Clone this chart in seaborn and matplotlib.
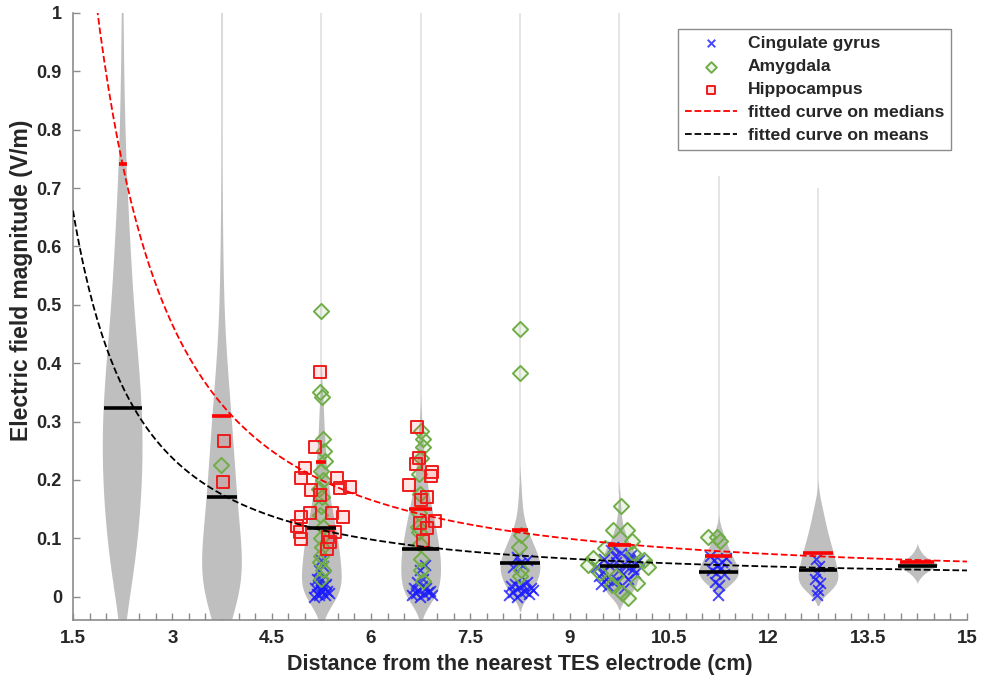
import numpy as np
import pandas as pd
import matplotlib
matplotlib.use("Agg")
import matplotlib.pyplot as plt
import seaborn as sns
from matplotlib.ticker import MultipleLocator, FuncFormatter

# ------------------------------------------------------------
# Data
# ------------------------------------------------------------

# violin centres (cm) with their mean / median field (V/m)
positions = [2.25, 3.75, 5.25, 6.75, 8.25, 9.75, 11.25, 12.75, 14.25]
medians = [0.741, 0.310, 0.230, 0.151, 0.115, 0.088, 0.070, 0.075, 0.060]
means = [0.323, 0.170, 0.117, 0.081, 0.058, 0.053, 0.043, 0.045, 0.053]
tail_tops = [1.10, 1.10, 1.10, 1.10, 1.10, 1.10, 0.72, 0.70, 0.0]

# fitted power curves  y = a * x^b + c  ->  [a, b, c]
median_fit = [2.81, -1.70, 0.032]
mean_fit = [1.21, -1.60, 0.029]

# violin bodies: field levels and relative counts per level
v1_levels = [0.0, 0.05, 0.1, 0.15, 0.2, 0.25, 0.3, 0.35, 0.4, 0.45, 0.5, 0.55,
             0.6, 0.65, 0.7, 0.75, 0.8, 0.85, 0.9, 0.95, 1.0, 1.05, 1.1]
v1_counts = [16, 24, 30, 35, 38, 40, 39, 36, 31, 26, 21, 18,
             15, 12, 9, 7, 5, 4, 3, 2, 2, 1, 1]
v2_levels = [0.0, 0.05, 0.1, 0.15, 0.2, 0.25, 0.3, 0.35, 0.4, 0.45, 0.5, 0.55,
             0.6, 0.65, 0.7, 0.75, 0.8, 0.85, 0.9, 0.95, 1.0, 1.05, 1.1]
v2_counts = [48, 40, 33, 28, 25, 21, 18, 14, 9, 6, 4, 3,
             2, 2, 1, 1, 1, 1, 1, 1, 1, 1, 1]
v3_levels = [0.0, 0.025, 0.05, 0.075, 0.1, 0.125, 0.15, 0.175, 0.2, 0.225,
             0.25, 0.275, 0.3, 0.325, 0.35]
v3_counts = [44, 40, 38, 35, 32, 26, 20, 16, 13, 10, 8, 6, 5, 4, 3]
v4_levels = [0.0, 0.025, 0.05, 0.075, 0.1, 0.125, 0.15, 0.175, 0.2, 0.225,
             0.25, 0.275, 0.3]
v4_counts = [36, 38, 40, 38, 33, 28, 22, 16, 12, 8, 6, 4, 3]
v5_levels = [0.0, 0.0125, 0.025, 0.0375, 0.05, 0.0625, 0.075, 0.0875, 0.1,
             0.1125, 0.125, 0.1375, 0.15, 0.1625, 0.175, 0.1875, 0.2]
v5_counts = [18, 24, 32, 38, 40, 38, 33, 27, 21, 15, 10, 7, 5, 4, 3, 2, 2]
v6_levels = [0.0, 0.0125, 0.025, 0.0375, 0.05, 0.0625, 0.075, 0.0875, 0.1,
             0.1125, 0.125, 0.1375, 0.15, 0.1625, 0.175]
v6_counts = [20, 30, 36, 40, 40, 36, 30, 22, 15, 10, 6, 4, 3, 2, 2]
v7_levels = [0.015, 0.025, 0.035, 0.045, 0.055, 0.065, 0.075, 0.085, 0.095,
             0.105, 0.115, 0.125]
v7_counts = [14, 28, 37, 40, 34, 28, 23, 18, 14, 10, 6, 3]
v8_levels = [0.01, 0.025, 0.04, 0.055, 0.07, 0.085, 0.1, 0.115, 0.13, 0.145,
             0.16, 0.175]
v8_counts = [26, 40, 38, 34, 30, 26, 21, 17, 13, 10, 6, 3]
v9_levels = [0.03, 0.035, 0.04, 0.045, 0.05, 0.055, 0.06, 0.065, 0.07, 0.075,
             0.08, 0.085]
v9_counts = [4, 8, 14, 22, 32, 40, 32, 20, 13, 8, 5, 2]

# individual regions of interest
cing_x = [5.14, 5.18, 5.22, 5.26, 5.30, 5.34, 5.16, 5.20, 5.24, 5.28, 5.32, 5.36, 5.19, 5.25, 5.31, 5.22, 5.28, 5.24,
          6.62, 6.68, 6.74, 6.80, 6.86, 6.92, 6.65, 6.71, 6.77, 6.83, 6.89, 6.70, 6.78, 6.74, 6.82,
          8.08, 8.14, 8.20, 8.26, 8.32, 8.38, 8.44, 8.11, 8.17, 8.23, 8.29, 8.35, 8.41, 8.15, 8.25, 8.35, 8.20, 8.30,
          9.40, 9.45, 9.50, 9.55, 9.60, 9.65, 9.70, 9.75, 9.80, 9.85, 9.90, 9.95, 10.00, 10.05,
          9.48, 9.58, 9.68, 9.78, 9.88, 9.98, 9.52, 9.62, 9.72, 9.82, 9.92, 9.66,
          11.12, 11.18, 11.24, 11.30, 11.36, 11.15, 11.21, 11.27, 11.33, 11.20, 11.26, 11.24,
          12.72, 12.76, 12.74, 12.70, 12.78, 12.75, 12.73]
cing_y = [0.000, 0.005, 0.002, 0.008, 0.003, 0.010, 0.015, 0.020, 0.012, 0.018, 0.022, 0.006, 0.030, 0.028, 0.035, 0.045, 0.052, 0.062,
          0.002, 0.006, 0.000, 0.004, 0.008, 0.003, 0.015, 0.012, 0.018, 0.014, 0.010, 0.025, 0.030, 0.045, 0.055,
          0.002, 0.008, 0.000, 0.006, 0.010, 0.004, 0.012, 0.018, 0.022, 0.016, 0.020, 0.025, 0.014, 0.050, 0.058, 0.062, 0.068, 0.055,
          0.050, 0.035, 0.042, 0.030, 0.055, 0.025, 0.060, 0.045, 0.038, 0.052, 0.065, 0.048, 0.058, 0.062,
          0.022, 0.018, 0.070, 0.075, 0.030, 0.040, 0.065, 0.080, 0.028, 0.015, 0.072, 0.085,
          0.070, 0.062, 0.055, 0.060, 0.066, 0.045, 0.040, 0.048, 0.038, 0.025, 0.020, 0.003,
          0.064, 0.053, 0.040, 0.030, 0.024, 0.012, 0.003]

amyg_x = [3.74,
          5.25, 5.23, 5.26, 5.27, 5.29, 5.31, 5.24, 5.28, 5.22, 5.26, 5.25, 5.23, 5.27, 5.24, 5.26, 5.25, 5.23, 5.27, 5.25,
          6.76, 6.78, 6.79, 6.75, 6.72, 6.74, 6.73, 6.71, 6.72, 6.74, 6.76, 6.75, 6.78,
          8.25, 8.25, 8.26, 8.24, 8.27, 8.25,
          9.78, 9.66, 9.87, 9.94, 9.35, 9.28, 10.13, 10.19, 9.46, 10.02, 9.79, 9.88, 9.64, 9.54, 9.70, 9.95,
          11.09, 11.23, 11.27]
amyg_y = [0.225,
          0.490, 0.350, 0.342, 0.270, 0.250, 0.232, 0.215, 0.200, 0.185, 0.170, 0.155, 0.140, 0.120, 0.100, 0.085, 0.070, 0.060, 0.045, 0.030,
          0.284, 0.270, 0.256, 0.238, 0.210, 0.175, 0.144, 0.120, 0.110, 0.090, 0.064, 0.046, 0.026,
          0.459, 0.383, 0.105, 0.085, 0.045, 0.035,
          0.156, 0.115, 0.115, 0.096, 0.067, 0.055, 0.062, 0.050, 0.040, 0.024, 0.007, -0.002, 0.020, 0.084, 0.035, 0.075,
          0.103, 0.103, 0.095]

hippo_x = [3.78, 3.77,
           5.23, 5.16, 5.00, 4.95, 5.10, 5.23, 5.48, 5.53, 5.68, 5.08, 4.95, 5.41, 5.58, 4.88, 4.93, 4.95, 5.35, 5.38, 5.33, 5.46,
           6.70, 6.73, 6.68, 6.92, 6.90, 6.57, 6.75, 6.85, 6.97, 6.74, 6.84, 6.79]
hippo_y = [0.266, 0.196,
           0.385, 0.257, 0.220, 0.203, 0.183, 0.174, 0.203, 0.186, 0.187, 0.144, 0.137, 0.144, 0.137, 0.121, 0.110, 0.098, 0.103, 0.093, 0.081, 0.110,
           0.290, 0.238, 0.227, 0.213, 0.206, 0.192, 0.166, 0.170, 0.130, 0.127, 0.118, 0.095]

# ------------------------------------------------------------
# Helpers
# ------------------------------------------------------------

def power_curve(params, t):
    a, b, c = params
    return a * t ** b + c


def half_width(coll, pos, level):
    # width of a seaborn violin polygon at a given level
    v = coll.get_paths()[0].vertices
    right = v[v[:, 0] > pos + 1e-9]
    order = np.argsort(right[:, 1])
    return np.interp(level, right[order, 1], right[order, 0]) - pos


# ------------------------------------------------------------
# Build violin table
# ------------------------------------------------------------

violin_levels = [v1_levels, v2_levels, v3_levels, v4_levels, v5_levels,
                 v6_levels, v7_levels, v8_levels, v9_levels]
violin_counts = [v1_counts, v2_counts, v3_counts, v4_counts, v5_counts,
                 v6_counts, v7_counts, v8_counts, v9_counts]

frames = []
for pos, lev, cnt in zip(positions, violin_levels, violin_counts):
    frames.append(pd.DataFrame({"distance": pos, "field": np.repeat(lev, cnt)}))
df = pd.concat(frames, ignore_index=True)

# ------------------------------------------------------------
# Plot
# ------------------------------------------------------------

sns.set_theme(style="ticks")
plt.rcParams["font.family"] = ["Liberation Sans", "DejaVu Sans"]
plt.rcParams["font.weight"] = "bold"
plt.rcParams["axes.labelweight"] = "bold"

fig, ax = plt.subplots(figsize=(9.81, 6.84), dpi=100)
fig.subplots_adjust(left=0.0744, right=0.9857, bottom=0.0936, top=0.981)

# thin KDE tails
for pos, lev, top in zip(positions, violin_levels, tail_tops):
    if top > max(lev):
        ax.vlines(pos, max(lev), top, color="#dedede", linewidth=1.1, zorder=0.9)

n0 = len(ax.collections)
sns.violinplot(data=df, x="distance", y="field", native_scale=True,
               color="#bfbfbf", saturation=1, inner=None, cut=2,
               bw_method=0.3, density_norm="width", width=0.4,
               linewidth=0, legend=False, ax=ax, zorder=1)
bodies = ax.collections[n0:]

# regions of interest
sns.scatterplot(x=cing_x, y=cing_y, marker="x", color="#1a1aff", s=60,
                linewidth=1.4, alpha=0.8, label="Cingulate gyrus", ax=ax, zorder=3)
sns.scatterplot(x=amyg_x, y=amyg_y, marker="D", color="#70ad47",
                facecolor=(0.44, 0.68, 0.28, 0.12), edgecolor="#70ad47",
                s=60, linewidth=1.4, label="Amygdala", ax=ax, zorder=4)
sns.scatterplot(x=hippo_x, y=hippo_y, marker="s", color="#ee1c1c",
                facecolor=(1.0, 0.2, 0.2, 0.12), edgecolor="#ee1c1c",
                s=75, linewidth=1.4, label="Hippocampus", ax=ax, zorder=5)

# mean (black) and median (red) lines across each violin
for coll, pos, med, mn in zip(bodies, positions, medians, means):
    hw = half_width(coll, pos, med)
    ax.hlines(med, pos - hw, pos + hw, color="#ff0000", linewidth=2.6, zorder=6)
    hw = half_width(coll, pos, mn)
    ax.hlines(mn, pos - hw, pos + hw, color="black", linewidth=2.6, zorder=6)

# fitted curves
xs = np.linspace(1.5, 15, 400)
sns.lineplot(x=xs, y=power_curve(median_fit, xs), color="#ff0000", linestyle="--",
             linewidth=1.3, errorbar=None, label="fitted curve on medians",
             ax=ax, zorder=7)
sns.lineplot(x=xs, y=power_curve(mean_fit, xs), color="black", linestyle="--",
             linewidth=1.3, errorbar=None, label="fitted curve on means",
             ax=ax, zorder=7)

# axes styling
ax.set_xlim(1.5, 15)
ax.set_ylim(-0.04, 1.0)
ax.xaxis.set_major_locator(MultipleLocator(1.5))
ax.xaxis.set_minor_locator(MultipleLocator(0.25))
ax.yaxis.set_major_locator(MultipleLocator(0.1))
ax.xaxis.set_major_formatter(FuncFormatter(lambda v, p: f"{round(v, 2):g}"))
ax.yaxis.set_major_formatter(FuncFormatter(lambda v, p: f"{round(v, 1):g}"))

sns.despine(ax=ax)
for side in ["left", "bottom"]:
    ax.spines[side].set_color("#8c8c8c")
    ax.spines[side].set_linewidth(1.2)

ax.tick_params(axis="both", which="both", direction="in", length=5,
               width=1, color="#8c8c8c", labelcolor="#262626")
ax.tick_params(axis="y", pad=8, labelsize=13)
ax.tick_params(axis="x", pad=7, labelsize=13.5)

ax.set_xlabel("Distance from the nearest TES electrode (cm)", fontsize=15.5,
              color="#262626", labelpad=5)
ax.set_ylabel("Electric field magnitude (V/m)", fontsize=16.5,
              color="#262626")
ax.yaxis.set_label_coords(-0.045, 0.56)

order = ["Cingulate gyrus", "Amygdala", "Hippocampus",
         "fitted curve on medians", "fitted curve on means"]
handles, labels = ax.get_legend_handles_labels()
lookup = dict(zip(labels, handles))
leg = ax.legend([lookup[k] for k in order], order, loc="upper right",
                fontsize=12.6, frameon=True, fancybox=False, framealpha=1,
                edgecolor="#8c8c8c", handlelength=3.0, handletextpad=0.6,
                labelspacing=0.45, borderaxespad=0.9, borderpad=0.4,
                markerscale=0.7)
leg.get_frame().set_linewidth(1.0)

plt.savefig("out.png", dpi=100)
